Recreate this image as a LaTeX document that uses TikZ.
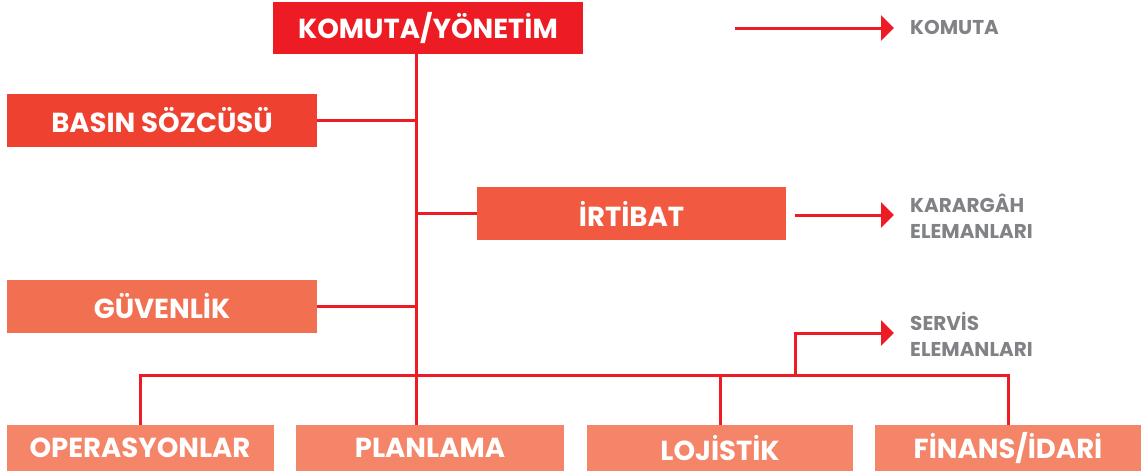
\documentclass[tikz,border=0pt]{standalone}
\usepackage{fontspec}
\setmainfont{Poppins}
\usetikzlibrary{arrows.meta}
\definecolor{cA}{HTML}{ED1C24}
\definecolor{cB}{HTML}{EF4130}
\definecolor{cC}{HTML}{F15A40}
\definecolor{cD}{HTML}{F27052}
\definecolor{cE}{HTML}{F48568}
\definecolor{gtxt}{HTML}{808285}
\begin{document}
\begin{tikzpicture}[x=1pt,y=-1pt,
  box/.style={rectangle, inner sep=0pt, text=white, font=\fontsize{27.5}{30}\selectfont\bfseries},
  conn/.style={draw=cA, line width=3pt},
  arr/.style={conn, -{Triangle[length=13pt,width=25pt]}},
  glabel/.style={anchor=west, align=left, text=gtxt, inner sep=0pt, font=\fontsize{20}{26}\selectfont\bfseries}]
\useasboundingbox (0,0) rectangle (1143,475);
% boxes
\node[box, fill=cA, minimum width=310pt, minimum height=52pt] (kom) at (428,28) {KOMUTA/YÖNETİM};
\node[box, fill=cB, minimum width=310pt, minimum height=53pt] (bas) at (162,120.5) {BASIN SÖZCÜSÜ};
\node[box, fill=cC, minimum width=309pt, minimum height=53pt] (irt) at (631.5,213.5) {İRTİBAT};
\node[box, fill=cD, minimum width=310pt, minimum height=53pt] (guv) at (162,306.5) {GÜVENLİK};
\node[box, fill=cE, minimum width=267pt, minimum height=46pt] (ope) at (140,448) {OPERASYONLAR};
\node[box, fill=cE, minimum width=268pt, minimum height=46pt] (pla) at (430,448) {PLANLAMA};
\node[box, fill=cE, minimum width=266pt, minimum height=46pt] (loj) at (720,448) {LOJİSTİK};
\node[box, fill=cE, minimum width=266pt, minimum height=46pt] (fin) at (1008,448) {FİNANS/İDARİ};
% labels
\node[glabel] (lkom) at (910,27) {KOMUTA};
\node[glabel] (lkar) at (910,216) {KARARGÂH\\ELEMANLARI};
\node[glabel] (lser) at (910,334) {SERVİS\\ELEMANLARI};
% coordinates
\coordinate (trunk) at (416,375);
\coordinate (bar) at (140,375);
\coordinate (srv) at (795,375);
\coordinate (k0) at (735,28);
\coordinate (k1) at (894,28);
\coordinate (i0) at (795,215);
\coordinate (i1) at (894,215);
\coordinate (s1) at (894,333);
% connectors
\draw[conn] (kom.south -| trunk) -- (pla.north -| trunk);
\draw[conn] (bas.east) -- (bas.east -| trunk);
\draw[conn] (irt.west) -- (irt.west -| trunk);
\draw[conn] (guv.east) -- (guv.east -| trunk);
\draw[conn] (ope.north) -- (ope.north |- bar) -- (fin.north |- bar) -- (fin.north);
\draw[conn] (loj.north) -- (loj.north |- bar);
\draw[arr] (srv) -- (srv |- s1) -- (s1);
\draw[arr] (k0) -- (k1);
\draw[arr] (i0) -- (i1);
\end{tikzpicture}
\end{document}
